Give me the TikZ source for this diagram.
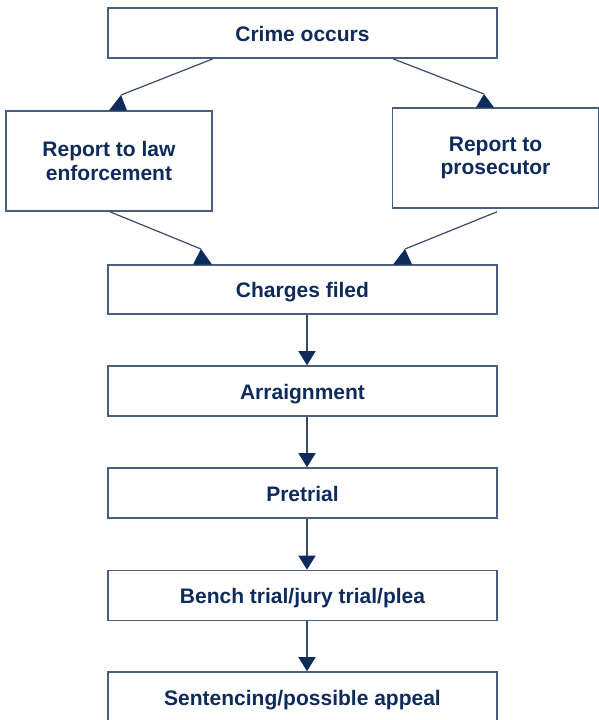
\documentclass[tikz,border=0pt]{standalone}
\usepackage{fontspec}
\setmainfont{Liberation Sans}
\usetikzlibrary{arrows.meta}
\definecolor{txtc}{HTML}{0E2B5C}
\definecolor{boxc}{HTML}{4A5F80}
\definecolor{linec}{HTML}{3A4A63}
\tikzset{
  stage/.style={draw=boxc, line width=1.6pt, fill=white, inner sep=0pt,
    text=txtc, font=\fontsize{21}{23.5}\selectfont\bfseries, align=center},
  wide/.style={stage, minimum width=389pt, minimum height=50pt, text height=18pt, text depth=2pt},
  side/.style={stage, minimum width=206pt, minimum height=100pt},
  conn/.style={draw=linec, line width=1.2pt},
  head/.style={fill=txtc},
  vconn/.style={draw=linec, line width=1.5pt, -{Triangle[width=17pt,length=14pt,fill=txtc,color=txtc]}}
}
\begin{document}
\begin{tikzpicture}[x=1pt,y=-1pt]
\useasboundingbox (0,0) rectangle (598,720);
\node[wide] (crime) at (302.5,33) {Crime occurs};
\node[side] (law) at (109,161) {Report to law\\enforcement};
\node[side] (pros) at (495.5,158) {Report to\\prosecutor};
\node[wide, minimum height=49pt] (charges) at (302.5,289.5) {Charges filed};
\node[wide] (arr) at (302.5,391) {Arraignment};
\node[wide] (pre) at (302.5,493) {Pretrial};
\node[wide] (bench) at (302.5,595.5) {Bench trial/jury trial/plea};
\node[wide] (sent) at (302.5,697) {Sentencing/possible appeal};
% diagonal connectors
\coordinate (t1) at (121,95);
\coordinate (t2) at (484,94);
\coordinate (t3) at (201,249);
\coordinate (t4) at (405,249);
\draw[conn] (crime.south -| 213,0) -- (t1);
\fill[head] (t1) -- ++(-12,15.5) -- ++(18,0) -- cycle;
\draw[conn] (crime.south -| 393,0) -- (t2);
\fill[head] (t2) -- ++(-8,13.5) -- ++(18,0) -- cycle;
\draw[conn] (law.south -| 110,0) -- (t3);
\fill[head] (t3) -- ++(-8,15.5) -- ++(19,0) -- cycle;
\draw[conn] (pros.south -| 497,0) ++(0,3) -- (t4);
\fill[head] (t4) -- ++(-12,15.5) -- ++(19,0) -- cycle;
% vertical connectors
\draw[vconn] (charges.south -| 307,0) -- (arr.north -| 307,0);
\draw[vconn] (arr.south -| 307,0) -- (pre.north -| 307,0);
\draw[vconn] (pre.south -| 307,0) -- (bench.north -| 307,0);
\draw[vconn] (bench.south -| 307,0) -- (sent.north -| 307,0);
\end{tikzpicture}
\end{document}
